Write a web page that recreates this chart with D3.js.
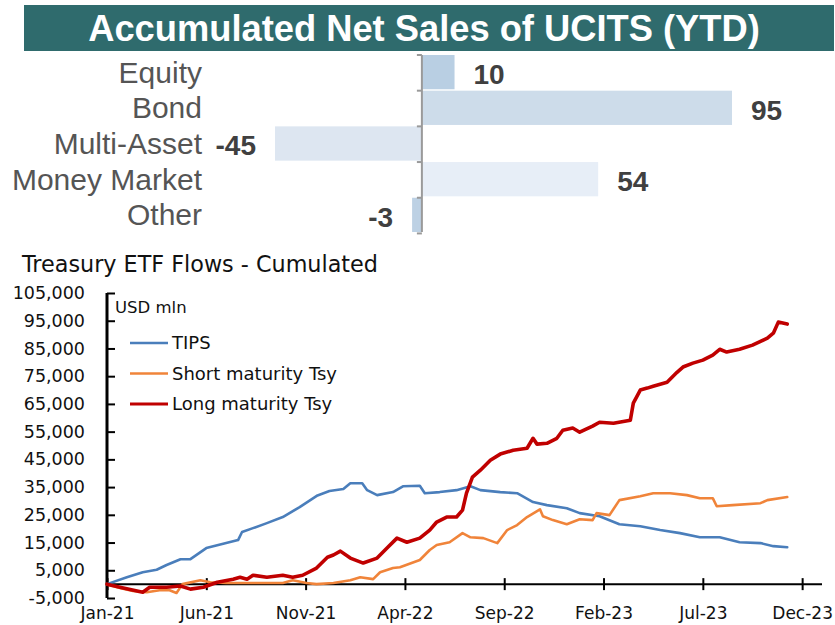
<!DOCTYPE html>
<html>
<head>
<meta charset="utf-8">
<script src="https://cdn.jsdelivr.net/npm/d3@7"></script>
<style>
  html, body { margin: 0; padding: 0; background: #fff; }
  svg { display: block; }
</style>
</head>
<body>
<div id="chart"></div>
<script>
// ---- top panel: accumulated net sales of UCITS (YTD)
const ucitsCategories = ['Equity', 'Bond', 'Multi-Asset', 'Money Market', 'Other'];
const ucitsValues = [10, 95, -45, 54, -3];
const ucitsColors = ['#b9cfe3', '#cddcea', '#dde6f1', '#e7eef7', '#bdd1e4'];

// ---- bottom panel: treasury ETF flows, cumulated (USD mln)
// t = months since Jan-21
const tipsMonths = [0, 1.0, 1.8, 2.5, 3.0, 3.7, 4.2, 5.0, 6.0, 6.6, 6.8, 7.35, 8.05, 8.85, 9.7, 10.6, 11.2, 11.9, 12.25, 12.85, 13.1, 13.6, 14.4, 14.9, 15.75, 16.0, 16.75, 17.6, 18.3, 18.8, 19.8, 20.65, 21.45, 22.15, 23.15, 23.8, 24.8, 25.8, 26.85, 27.85, 28.85, 29.85, 30.85, 31.85, 32.9, 33.55, 34.25];
const tipsValues = [0, 2500, 4300, 5200, 6900, 9000, 9000, 13000, 14800, 15900, 18800, 20200, 22000, 24200, 27800, 32000, 33600, 34300, 36400, 36400, 33900, 32100, 33200, 35300, 35500, 32800, 33200, 33900, 35300, 33900, 33200, 32800, 29600, 28500, 27400, 25600, 24500, 21600, 20900, 19500, 18400, 16900, 16900, 15100, 14800, 13700, 13300];

const shortMonths = [0, 0.65, 1.3, 2.0, 2.65, 3.15, 3.5, 3.8, 4.7, 5.2, 6.0, 7.2, 8.85, 9.35, 10.05, 10.55, 11.4, 12.25, 12.75, 13.4, 13.75, 14.4, 14.75, 15.75, 16.25, 16.6, 17.25, 17.9, 18.3, 18.95, 19.65, 20.15, 20.65, 21.15, 21.8, 21.95, 22.45, 23.15, 23.8, 24.45, 24.65, 25.3, 25.8, 26.85, 27.5, 28.35, 29.2, 29.85, 30.5, 30.7, 31.5, 32.9, 33.25, 34.25];
const shortValues = [0, -1400, -2500, -2900, -2200, -2200, -3200, 0, 1400, 700, 400, 400, 400, 1400, 400, 0, 400, 1400, 2500, 1800, 4300, 5800, 6100, 8700, 12300, 14100, 15100, 18400, 16900, 16600, 14800, 19500, 21300, 24200, 27000, 24500, 23100, 21600, 23400, 23100, 25600, 24900, 30300, 31700, 32800, 32800, 32100, 31000, 31000, 28100, 28500, 29200, 30300, 31400];

const longMonths = [0, 0.65, 1.8, 2.15, 3.0, 3.7, 4.2, 4.85, 5.55, 6.35, 6.7, 7.05, 7.35, 8.05, 8.85, 9.35, 9.85, 10.55, 11.1, 11.4, 11.75, 12.25, 12.9, 13.6, 14.1, 14.6, 15.1, 15.75, 16.25, 16.6, 17.1, 17.6, 17.9, 18.1, 18.4, 18.8, 19.3, 19.8, 20.45, 21.15, 21.45, 21.65, 22.15, 22.65, 22.95, 23.45, 23.8, 24.45, 24.8, 25.5, 26.35, 26.5, 26.85, 27.2, 27.5, 28.2, 28.7, 29.0, 29.5, 30.0, 30.5, 30.85, 31.2, 31.85, 32.5, 33.25, 33.55, 33.8, 34.25];
const longValues = [0, -1100, -2900, -1100, -1100, -700, -1800, -1100, 700, 1800, 2500, 1800, 3200, 2500, 3200, 2500, 3200, 5800, 9700, 10500, 11900, 9400, 7600, 9400, 13000, 16600, 15100, 16600, 19500, 22400, 24200, 24200, 26700, 32800, 38600, 41100, 44700, 46900, 48300, 49000, 52600, 50500, 50800, 52600, 55500, 56300, 54800, 57000, 58400, 58000, 59100, 65300, 70000, 70700, 71400, 72800, 76400, 78300, 79700, 80800, 82600, 84700, 83700, 84700, 86200, 88700, 90500, 94500, 93800];

const seriesNames = ['TIPS', 'Short maturity Tsy', 'Long maturity Tsy'];
const seriesColors = ['#4a7ebb', '#f0843a', '#c00000'];

const monthTicks = [0, 5, 10, 15, 20, 25, 30, 35];
const monthTickLabels = ['Jan-21', 'Jun-21', 'Nov-21', 'Apr-22', 'Sep-22', 'Feb-23', 'Jul-23', 'Dec-23'];
const valueTicks = [-5000, 5000, 15000, 25000, 35000, 45000, 55000, 65000, 75000, 85000, 95000, 105000];

const width = 835;
const height = 625;

const svg = d3.select('#chart')
    .append('svg')
    .attr('width', width)
    .attr('height', height)
    .attr('viewBox', [0, 0, width, height]);

svg.append('rect').attr('width', width).attr('height', height).attr('fill', '#fff');

// HEADER
svg.append('rect')
    .attr('x', 24)
    .attr('y', 5)
    .attr('width', 810)
    .attr('height', 46)
    .attr('fill', '#2f6b6d');

svg.append('text')
    .attr('x', 424)
    .attr('y', 41)
    .attr('text-anchor', 'middle')
    .attr('font-family', 'Liberation Sans, Arial, sans-serif')
    .attr('font-weight', 'bold')
    .attr('font-size', 36.3)
    .attr('fill', '#fff')
    .text('Accumulated Net Sales of UCITS (YTD)');

// TOP BARS
const xBar = d3.scaleLinear(d3.extent(ucitsValues), [275, 732]);
const yBar = d3.scaleBand(ucitsCategories, [55, 232]).paddingInner(0.04);

svg.append('g')
    .selectAll('rect')
    .data(ucitsValues)
    .join('rect')
    .attr('x', (d) => Math.min(xBar(0), xBar(d)))
    .attr('y', (d, i) => yBar(ucitsCategories[i]))
    .attr('width', (d) => Math.abs(xBar(d) - xBar(0)))
    .attr('height', yBar.bandwidth())
    .attr('fill', (d, i) => ucitsColors[i]);

// category axis with ticks at band boundaries
const barAxis = svg.append('g').attr('stroke', '#9a9a9a').attr('stroke-width', 2);
barAxis.append('line')
    .attr('x1', xBar(0)).attr('x2', xBar(0))
    .attr('y1', 55).attr('y2', 232);
barAxis.selectAll('line.tick')
    .data(d3.range(ucitsCategories.length + 1))
    .join('line')
    .attr('class', 'tick')
    .attr('x1', xBar(0) - 5).attr('x2', xBar(0))
    .attr('y1', (i) => 55 + i * yBar.step())
    .attr('y2', (i) => 55 + i * yBar.step());

svg.append('g')
    .attr('font-family', 'Liberation Sans, Arial, sans-serif')
    .attr('font-size', 30)
    .attr('fill', '#555')
    .attr('text-anchor', 'end')
    .selectAll('text')
    .data(ucitsCategories)
    .join('text')
    .attr('x', 202)
    .attr('y', (d) => yBar(d) + yBar.bandwidth() / 2)
    .attr('dy', '0.35em')
    .text((d) => d);

svg.append('g')
    .attr('font-family', 'Liberation Sans, Arial, sans-serif')
    .attr('font-size', 28)
    .attr('font-weight', 'bold')
    .attr('fill', '#404040')
    .selectAll('text')
    .data(ucitsValues)
    .join('text')
    .attr('x', (d) => (d >= 0 ? xBar(d) + 19 : xBar(d) - 19))
    .attr('y', (d, i) => yBar(ucitsCategories[i]) + yBar.bandwidth() / 2 + 2)
    .attr('dy', '0.35em')
    .attr('text-anchor', (d) => (d >= 0 ? 'start' : 'end'))
    .text((d) => d);

// BOTTOM LINE CHART
const font = 'DejaVu Sans, Verdana, sans-serif';

svg.append('text')
    .attr('x', 22)
    .attr('y', 272)
    .attr('font-family', font)
    .attr('font-size', 22.3)
    .attr('fill', '#111')
    .text('Treasury ETF Flows - Cumulated');

const x = d3.scaleLinear([0, 36], [107, 822]);
const y = d3.scaleLinear([-5000, 105000], [598, 293]);

const fmt = d3.formatLocale({ decimal: '.', thousands: ',', grouping: [3], currency: ['$', ''], minus: '-' }).format(',');

// Y AXIS
svg.append('g')
    .attr('transform', `translate(${x(0)},0)`)
    .call(d3.axisLeft(y).tickValues(valueTicks).tickSize(-8).tickPadding(22).tickFormat(fmt))
    .call((g) => g.select('.domain').attr('stroke-width', 3).attr('d', `M0,${y(-5000)}V${y(105000)}`))
    .call((g) => g.selectAll('.tick line').attr('stroke-width', 2))
    .call((g) => g.selectAll('.tick text').attr('font-size', 17.5).attr('font-family', font).attr('fill', '#111'));

// X AXIS
svg.append('g')
    .attr('transform', `translate(0,${y(0)})`)
    .call(d3.axisBottom(x).tickValues(monthTicks).tickSize(6).tickPadding(17).tickFormat((d, i) => monthTickLabels[i]))
    .call((g) => g.select('.domain').attr('stroke-width', 2).attr('d', `M${x(0)},0H${x(36)}`))
    .call((g) => g.selectAll('.tick line').attr('stroke-width', 2).attr('y1', -6))
    .call((g) => g.selectAll('.tick text').attr('font-size', 17).attr('font-family', font).attr('fill', '#111'));

const series = [
    { months: tipsMonths, values: tipsValues, width: 2.6 },
    { months: shortMonths, values: shortValues, width: 2.6 },
    { months: longMonths, values: longValues, width: 3.6 },
];

const line = d3.line()
    .x((d) => x(d[0]))
    .y((d) => y(d[1]));

svg.append('g')
    .attr('fill', 'none')
    .attr('stroke-linejoin', 'round')
    .attr('stroke-linecap', 'round')
    .selectAll('path')
    .data(series)
    .join('path')
    .attr('stroke', (d, i) => seriesColors[i])
    .attr('stroke-width', (d) => d.width)
    .attr('d', (d) => line(d3.zip(d.months, d.values)));

// UNIT LABEL + LEGEND
svg.append('text')
    .attr('x', 115)
    .attr('y', 307)
    .attr('dy', '0.35em')
    .attr('font-family', font)
    .attr('font-size', 16.5)
    .attr('fill', '#111')
    .text('USD mln');

const legend = svg.append('g')
    .selectAll('g')
    .data(seriesNames)
    .join('g')
    .attr('transform', (d, i) => `translate(130,${343 + i * 30.5})`);

legend.append('line')
    .attr('x2', 38)
    .attr('stroke', (d, i) => seriesColors[i])
    .attr('stroke-width', (d, i) => (i === 2 ? 3 : 2.6));

legend.append('text')
    .attr('x', 42)
    .attr('dy', '0.35em')
    .attr('font-family', font)
    .attr('font-size', 18)
    .attr('fill', '#111')
    .text((d) => d);
</script>
</body>
</html>
